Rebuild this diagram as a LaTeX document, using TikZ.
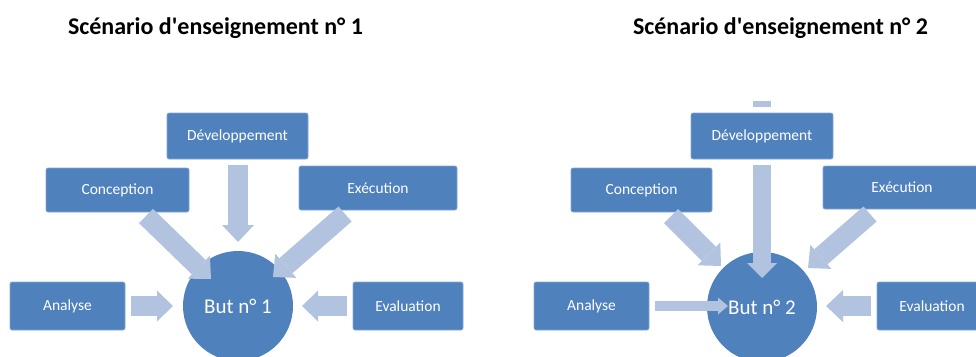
\documentclass[tikz,border=0pt]{standalone}
\usepackage{fontspec}
\setmainfont{Carlito}[Ligatures=TeXOff]
\usetikzlibrary{arrows.meta}
\definecolor{boxblue}{HTML}{4F81BD}
\definecolor{arrblue}{HTML}{B1C3DF}
\tikzset{
  stepbox/.style={rectangle, rounded corners=2pt, fill=boxblue, draw=boxblue!70!white, line width=0.6pt,
    text=white, font=\fontsize{15.5}{18}\selectfont, inner sep=0pt},
  goal/.style={circle, fill=boxblue, inner sep=0pt, minimum size=110pt},
  goaltext/.style={text=white, font=\fontsize{21}{24}\selectfont, inner sep=0pt},
  titletext/.style={font=\bfseries\fontsize{24}{28}\selectfont, anchor=base, inner sep=0pt},
  blockarr/.style n args={3}{draw=arrblue, line width=#1,
    -{Triangle[width=#2,length=#3,line width=0pt]}},
}
\begin{document}
\begin{tikzpicture}[x=1pt,y=-1pt]
\useasboundingbox (0,0) rectangle (976,356);
\clip (0,0) rectangle (976,356);
% titles
\node[titletext] (t1) at (215.5,34) {Scénario d'enseignement n° 1};
\node[titletext] (t2) at (780.5,34) {Scénario d'enseignement n° 2};

% ---------- scenario 1 ----------
\node[goal] (g1) at (238,306) {};
\node[stepbox, minimum width=141pt, minimum height=46pt] (dev1) at (237.5,136) {Développement};
\node[stepbox, minimum width=143pt, minimum height=44pt] (con1) at (117.5,190) {Conception};
\node[stepbox, minimum width=158pt, minimum height=44pt] (exe1) at (378,188) {Exécution};
\node[stepbox, minimum width=115pt, minimum height=48pt] (ana1) at (67.5,306) {Analyse};
\node[stepbox, minimum width=110pt, minimum height=48pt] (eva1) at (408,306) {Evaluation};

\coordinate (d1s) at (238,165);  \coordinate (d1e) at (238,242);
\coordinate (c1s) at (146,216);  \coordinate (c1e) at (211,279);
\coordinate (x1s) at (345,214);  \coordinate (x1e) at (273,277);
\coordinate (a1s) at (131,306);  \coordinate (a1e) at (173,306);
\coordinate (e1s) at (347,306);  \coordinate (e1e) at (302,306);
\draw[blockarr={20pt}{32pt}{17pt}] (d1s) -- (d1e);
\draw[blockarr={20pt}{32pt}{17pt}] (c1s) -- (c1e);
\draw[blockarr={20pt}{32pt}{17pt}] (x1s) -- (x1e);
\draw[blockarr={20pt}{31pt}{16pt}] (a1s) -- (a1e);
\draw[blockarr={20pt}{31pt}{16pt}] (e1s) -- (e1e);
\node[goaltext] (gt1) at (g1.center) {But n° 1};

% ---------- scenario 2 ----------
\node[goal] (g2) at (762,307) {};
\node[stepbox, minimum width=142pt, minimum height=46pt] (dev2) at (762,136) {Développement};
\node[stepbox, minimum width=141pt, minimum height=44pt] (con2) at (641.5,190) {Conception};
\node[stepbox, minimum width=158pt, minimum height=43pt] (exe2) at (902,187.5) {Exécution};
\node[stepbox, minimum width=115pt, minimum height=48pt] (ana2) at (591.5,306) {Analyse};
\node[stepbox, minimum width=110pt, minimum height=48pt] (eva2) at (932,306) {Evaluation};

\fill[arrblue] (753,101) rectangle (771,107);
\coordinate (d2s) at (762,165);  \coordinate (d2e) at (762,278);
\coordinate (c2s) at (671,216);  \coordinate (c2e) at (721,266);
\coordinate (x2s) at (870,214);  \coordinate (x2e) at (808,268);
\coordinate (a2s) at (655,306);  \coordinate (a2e) at (728,306);
\coordinate (e2s) at (871,306);  \coordinate (e2e) at (826,306);
\draw[blockarr={18pt}{30pt}{15pt}] (d2s) -- (d2e);
\draw[blockarr={20pt}{32pt}{17pt}] (c2s) -- (c2e);
\draw[blockarr={20pt}{32pt}{17pt}] (x2s) -- (x2e);
\draw[blockarr={10pt}{17pt}{10pt}] (a2s) -- (a2e);
\draw[blockarr={20pt}{32pt}{17pt}] (e2s) -- (e2e);
\node[goaltext] (gt2) at (g2.center) {But n° 2};
\end{tikzpicture}
\end{document}
